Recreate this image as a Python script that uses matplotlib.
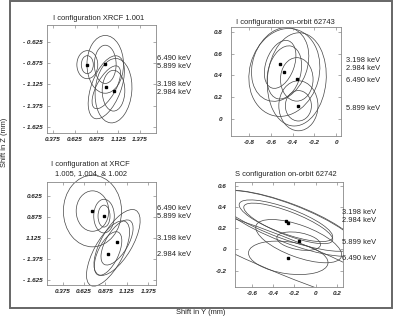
import matplotlib
matplotlib.use("Agg")
import matplotlib.pyplot as plt
from matplotlib.patches import Ellipse, Rectangle

plt.rcParams["font.family"] = ["Liberation Sans", "DejaVu Sans"]

# ---- panel data: centres + (width, height, angle) of inner / outer error ellipses ----
# I configuration XRCF 1.001
p1_x = [0.769, 0.975, 0.987, 1.070]
p1_y = [-0.892, -0.888, -1.158, -1.198]
p1_inner = [(0.138, 0.212, 0), (0.25, 0.45, 0), (0.56, 0.22, 62), (0.26, 0.48, 0)]
p1_outer = [(0.24, 0.33, 0), (0.42, 0.68, 0), (0.78, 0.34, 70), (0.42, 0.76, -5)]
p1_labels = ["6.490 keV", "5.899 keV", "3.198 keV", "2.984 keV"]

# I configuration on-orbit 62743
p2_x = [-0.514, -0.475, -0.361, -0.346]
p2_y = [0.502, 0.428, 0.364, 0.121]
p2_inner = [(0.26, 0.46, -20), (0.30, 0.50, -15), (0.30, 0.40, 0), (0.24, 0.28, 0)]
p2_outer = [(0.50, 0.70, -20), (0.64, 0.82, -15), (0.54, 0.86, -5), (0.36, 0.46, 0)]
p2_labels = ["3.198 keV", "2.984 keV", "6.490 keV", "5.899 keV"]

# I configuration at XRCF 1.005, 1.004, & 1.002
p3_x = [0.723, 0.858, 1.010, 0.905]
p3_y = [-0.807, -0.867, -1.180, -1.311]
p3_inner = [(0.38, 0.48, 0), (0.14, 0.26, 0), (0.60, 0.26, 60), (0.56, 0.24, 65)]
p3_outer = [(0.68, 0.85, 0), (0.24, 0.40, 0), (0.88, 0.36, 60), (0.86, 0.34, 62)]
p3_labels = ["6.490 keV", "5.899 keV", "3.198 keV", "2.984 keV"]

# S configuration on-orbit 62742
p4_x = [-0.281, -0.259, -0.160, -0.259]
p4_y = [0.270, 0.245, 0.078, -0.079]
p4_inner = [(0.94, 0.24, -20), (0.90, 0.22, -21), (0.42, 0.16, -10), (0.76, 0.30, -8)]
p4_outer = [(1.40, 0.34, -20), (1.45, 0.36, -21), (0.86, 0.30, -20), (2.60, 0.34, -22)]
p4_labels = ["3.198 keV", "2.984 keV", "5.899 keV", "6.490 keV"]

xt_xrcf = [0.375, 0.625, 0.875, 1.125, 1.375]
yt_xrcf = [-0.625, -0.875, -1.125, -1.375, -1.625]

fig = plt.figure(figsize=(3.95, 3.2), dpi=100)

# outer frame
fig.patches.append(Rectangle((0.026, 0.037), 0.967, 0.96, transform=fig.transFigure,
                             fill=False, edgecolor="#666666", lw=1.4))


def panel(rect, xs, ys, inner, outer, xlim, ylim, xticks, xlabels, yticks, ylabels,
          labels, label_x, label_y, ypad, clip=True):
    ax = fig.add_axes(rect)
    for i in range(len(xs)):
        for w, h, a in (inner[i], outer[i]):
            e = Ellipse((xs[i], ys[i]), w, h, angle=a, fill=False,
                        edgecolor="#444444", lw=0.5, clip_on=clip)
            ax.add_patch(e)
    ax.plot(xs, ys, "s", color="black", ms=1.5)
    ax.set_xlim(xlim)
    ax.set_ylim(ylim)
    ax.set_xticks(xticks, xlabels)
    ax.set_yticks(yticks, ylabels)
    ax.tick_params(direction="in", length=2.5, width=0.5, color="#888888",
                   top=True, right=True, labelsize=4.6, labelcolor="#222222")
    ax.tick_params(axis="y", pad=ypad)
    ax.tick_params(axis="x", pad=3)
    for t in ax.get_xticklabels() + ax.get_yticklabels():
        t.set_fontweight("bold")
        t.set_fontstyle("italic")
    for s in ax.spines.values():
        s.set_color("#888888")
        s.set_linewidth(0.6)
    for lab, ly in zip(labels, label_y):
        fig.text(label_x / 395, 1 - ly / 320, lab, fontsize=5.4, va="center", ha="left",
                 color="#222222")
    return ax


panel([47 / 395, 1 - 133 / 320, 109 / 395, 108 / 320], p1_x, p1_y, p1_inner, p1_outer,
      (0.306, 1.558), (-1.696, -0.425), xt_xrcf, ["0.375", "0.625", "0.875", "1.125", "1.375"],
      yt_xrcf, ["- 0.625", "- 0.875", "- 1.125", "- 1.375", "- 1.625"],
      p1_labels, 157, [58, 66, 85, 93], 3.5)

panel([231 / 395, 1 - 136 / 320, 110 / 395, 109 / 320], p2_x, p2_y, p2_inner, p2_outer,
      (-0.966, 0.046), (-0.157, 0.846), [-0.8, -0.6, -0.4, -0.2, 0],
      ["-0.8", "-0.6", "-0.4", "-0.2", "0"], [0, 0.2, 0.4, 0.6, 0.8],
      ["0", "0.2", "0.4", "0.6", "0.8"],
      p2_labels, 346, [61, 69, 80, 108], 6)

panel([47 / 395, 1 - 285 / 320, 109 / 395, 103 / 320], p3_x, p3_y, p3_inner, p3_outer,
      (0.192, 1.465), (-1.685, -0.462), xt_xrcf, ["0.375", "0.625", "0.875", "1.125", "1.375"],
      yt_xrcf, ["0.625", "0.875", "1.125", "- 1.375", "- 1.625"],
      p3_labels, 157, [208, 216, 238, 254], 3.5, clip=False)

panel([235 / 395, 1 - 286.5 / 320, 108 / 395, 104.5 / 320], p4_x, p4_y, p4_inner, p4_outer,
      (-0.764, 0.26), (-0.349, 0.635), [-0.6, -0.4, -0.2, 0, 0.2],
      ["-0.6", "-0.4", "-0.2", "0", "0.2"], [-0.2, 0, 0.2, 0.4, 0.6],
      ["-0.2", "0", "0.2", "0.4", "0.6"],
      p4_labels, 342, [213, 220, 242, 258], 6)

# titles
title_kw = dict(fontsize=5.4, ha="center", va="center", color="#222222")
fig.text(99 / 395, 1 - 19 / 320, "I configuration XRCF 1.001", **title_kw)
fig.text(285.5 / 395, 1 - 22 / 320, "I configuration on-orbit 62743", **title_kw)
fig.text(90.7 / 395, 1 - 165 / 320, "I configuration at XRCF", **title_kw)
fig.text(90.7 / 395, 1 - 174 / 320, "1.005, 1.004, & 1.002", **title_kw)
fig.text(285.5 / 395, 1 - 174 / 320, "S configuration on-orbit 62742", **title_kw)

fig.text(4.5 / 395, 1 - 142 / 320, "Shift in Z (mm)", rotation=90, **title_kw)
fig.text(201 / 395, 1 - 313 / 320, "Shift in Y (mm)", **title_kw)

fig.savefig("out.png", dpi=100)
